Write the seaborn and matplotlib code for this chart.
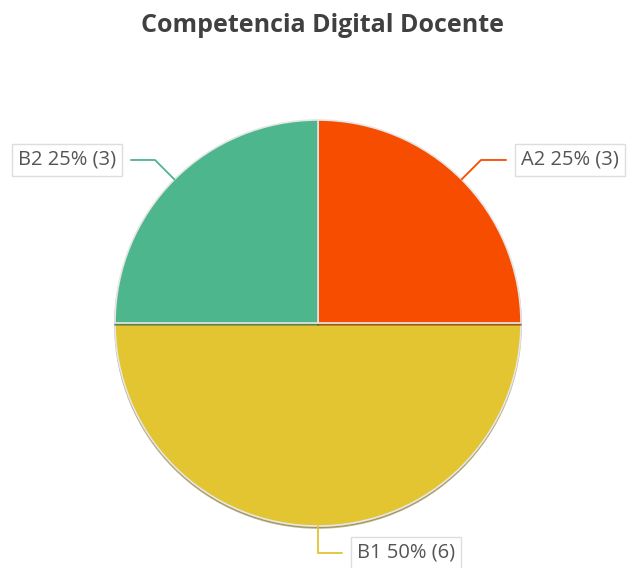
import matplotlib
matplotlib.use("Agg")
import matplotlib.pyplot as plt
from matplotlib.patches import Shadow
import seaborn as sns
import numpy as np

labels = ["A2", "B1", "B2"]
counts = [3, 6, 3]
colors = ["#F74D00", "#E3C431", "#4DB68C"]

sns.set_theme(style="white")
plt.rcParams["font.family"] = ["Open Sans", "DejaVu Sans"]

fig = plt.figure(figsize=(6.27, 5.68), dpi=100)
ax = fig.add_axes([0, 0, 1, 1])

wedges, _ = ax.pie(
    counts,
    colors=colors,
    startangle=90,
    counterclock=False,
    shadow={"ox": 0.0, "oy": -0.007, "shade": 0.45},
    wedgeprops={"edgecolor": "#e6e6e6", "linewidth": 1.2},
)

# draw the big bottom slice first so the top slices' shadows fall on it
shadows = [p for p in ax.patches if isinstance(p, Shadow)]
shadows[1].set_zorder(0.4)
wedges[1].set_zorder(0.5)

ax.set_xlim(-318 / 203, (627 - 318) / 203)
ax.set_ylim(-245 / 203, 323 / 203)
ax.set_aspect("auto")
ax.axis("off")

total = sum(counts)
text_pos = {
    "A2": (1.0, 0.803, "left"),
    "B1": (0.19, -1.133, "left"),
    "B2": (-0.995, 0.803, "right"),
}
conns = {
    "A2": "angle,angleA=0,angleB=45,rad=0",
    "B1": "angle,angleA=0,angleB=90,rad=0",
    "B2": "angle,angleA=0,angleB=-45,rad=0",
}

for w, lab, n, col in zip(wedges, labels, counts, colors):
    ang = np.deg2rad((w.theta1 + w.theta2) / 2)
    px, py = np.cos(ang), np.sin(ang)
    tx, ty, ha = text_pos[lab]
    ax.annotate(
        f"{lab} {n / total:.0%} ({n})",
        xy=(px, py),
        xytext=(tx, ty),
        ha=ha,
        va="center",
        fontsize=14.5,
        color="#555555",
        bbox=dict(boxstyle="square,pad=0.3", facecolor="white", edgecolor="#dddddd", linewidth=1),
        arrowprops=dict(arrowstyle="-", color=col, linewidth=1.3, connectionstyle=conns[lab],
                        shrinkA=6, shrinkB=0),
    )

fig.text(0.515, 0.955, "Competencia Digital Docente", ha="center", va="center",
         fontsize=18, fontweight="bold", color="#404040")

plt.savefig("out.png", dpi=100)
